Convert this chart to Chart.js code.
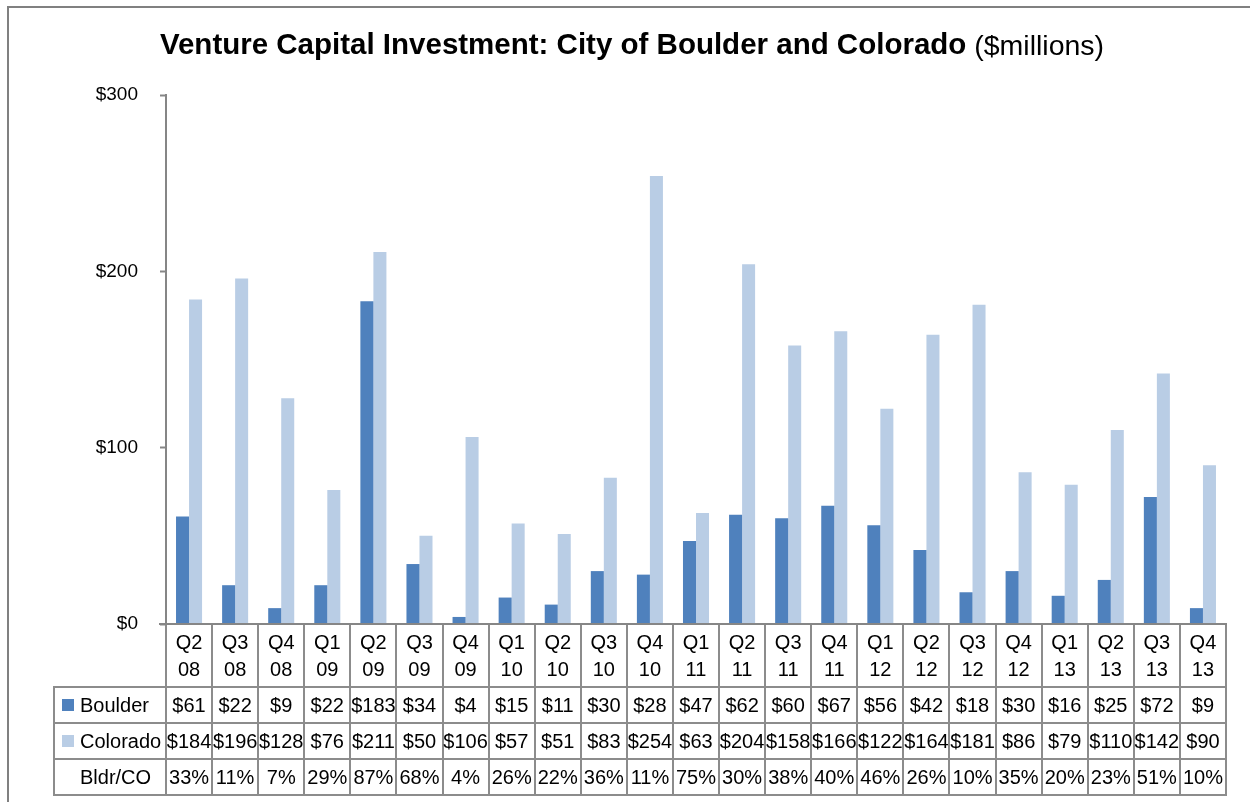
<!DOCTYPE html>
<html>
<head>
<meta charset="utf-8">
<script src="https://cdn.jsdelivr.net/npm/chart.js@4.4.1/dist/chart.umd.min.js"></script>
<style>
  html, body { margin: 0; padding: 0; background: #ffffff; }
  #wrap { position: relative; width: 1250px; height: 802px; }
</style>
</head>
<body>
<div id="wrap"><canvas id="c" width="1250" height="802"></canvas></div>
<script>
const quarters = ["Q2","Q3","Q4","Q1","Q2","Q3","Q4","Q1","Q2","Q3","Q4","Q1","Q2","Q3","Q4","Q1","Q2","Q3","Q4","Q1","Q2","Q3","Q4"];
const years    = ["08","08","08","09","09","09","09","10","10","10","10","11","11","11","11","12","12","12","12","13","13","13","13"];
const boulder  = [61,22,9,22,183,34,4,15,11,30,28,47,62,60,67,56,42,18,30,16,25,72,9];
const colorado = [184,196,128,76,211,50,106,57,51,83,254,63,204,158,166,122,164,181,86,79,110,142,90];
const ratioLabels = ["33%","11%","7%","29%","87%","68%","4%","26%","22%","36%","11%","75%","30%","38%","40%","46%","26%","10%","35%","20%","23%","51%","10%"];
const yTicks = [0,100,200,300];
const titleBold = "Venture Capital Investment: City of Boulder and Colorado";
const titleNormal = " ($millions)";
const seriesNames = ["Boulder","Colorado","Bldr/CO"];

const FONT = '"Liberation Sans", Arial, sans-serif';
const COL_B = '#4F81BD';
const COL_C = '#B9CDE5';
const GRID = '#8C8C8C';

const labels = quarters.map((q, i) => [q, years[i]]);

const tablePlugin = {
  id: 'tablePlugin',
  afterDraw(chart) {
    const ctx = chart.ctx;
    const x = chart.scales.x;
    const ca = chart.chartArea;
    const n = labels.length;
    const left = ca.left, right = ca.right;
    const w = (right - left) / n;
    const yTop = ca.bottom;       // 624
    const rows = [yTop + 63, yTop + 99, yTop + 135, yTop + 171];
    const legLeft = 54;
    ctx.save();

    // outer frame
    ctx.strokeStyle = '#808080';
    ctx.lineWidth = 2;
    ctx.beginPath();
    ctx.moveTo(8, 802); ctx.lineTo(8, 7); ctx.lineTo(1250, 7);
    ctx.stroke();

    // title
    ctx.fillStyle = '#000';
    ctx.textBaseline = 'middle';
    const fb = 'bold 29.5px ' + FONT;
    const fn = '28.5px ' + FONT;
    ctx.font = fb;
    const wb = ctx.measureText(titleBold).width;
    ctx.font = fn;
    const wn = ctx.measureText(titleNormal).width;
    const tx = 632 - (wb + wn) / 2;
    ctx.textAlign = 'left';
    ctx.font = fb;
    ctx.fillText(titleBold, tx, 46);
    ctx.font = fn;
    ctx.fillText(titleNormal, tx + wb, 47);

    // grid lines of table
    ctx.strokeStyle = GRID;
    ctx.lineWidth = 2;
    ctx.beginPath();
    for (let i = 0; i <= n; i++) {
      const gx = Math.round(left + i * w);
      ctx.moveTo(gx, yTop);
      ctx.lineTo(gx, rows[3]);
    }
    ctx.moveTo(legLeft, rows[0]); ctx.lineTo(legLeft, rows[3]);
    for (let r = 0; r < 4; r++) {
      ctx.moveTo(legLeft - 1, rows[r]); ctx.lineTo(right + 1, rows[r]);
    }
    ctx.stroke();
    // x axis line
    ctx.beginPath();
    ctx.strokeStyle = '#868686';
    ctx.moveTo(159, yTop); ctx.lineTo(right + 1, yTop);
    ctx.stroke();

    // category labels and table values
    ctx.fillStyle = '#000';
    ctx.font = '20px ' + FONT;
    ctx.textAlign = 'center';
    ctx.textBaseline = 'middle';
    for (let i = 0; i < n; i++) {
      const cx = x.getPixelForValue(i);
      ctx.fillText(labels[i][0], cx, yTop + 19);
      ctx.fillText(labels[i][1], cx, yTop + 46);
      ctx.fillText('$' + boulder[i], cx, (rows[0] + rows[1]) / 2 + 1);
      ctx.fillText('$' + colorado[i], cx, (rows[1] + rows[2]) / 2 + 1);
      ctx.fillText(ratioLabels[i], cx, (rows[2] + rows[3]) / 2 + 1);
    }

    // legend column
    ctx.textAlign = 'left';
    ctx.fillStyle = COL_B;
    ctx.fillRect(62, (rows[0] + rows[1]) / 2 - 6, 12, 12);
    ctx.fillStyle = COL_C;
    ctx.fillRect(62, (rows[1] + rows[2]) / 2 - 6, 12, 12);
    ctx.fillStyle = '#000';
    ctx.fillText(seriesNames[0], 80, (rows[0] + rows[1]) / 2 + 1);
    ctx.fillText(seriesNames[1], 80, (rows[1] + rows[2]) / 2 + 1);
    ctx.fillText(seriesNames[2], 80, (rows[2] + rows[3]) / 2 + 1);
    ctx.restore();
  }
};

new Chart(document.getElementById('c'), {
  type: 'bar',
  data: {
    labels: labels,
    datasets: [
      { label: seriesNames[0], data: boulder, backgroundColor: COL_B, categoryPercentage: 0.565, barPercentage: 1.0 },
      { label: seriesNames[1], data: colorado, backgroundColor: COL_C, categoryPercentage: 0.565, barPercentage: 1.0 }
    ]
  },
  options: {
    responsive: false,
    animation: false,
    devicePixelRatio: 1,
    layout: { padding: { left: 0, right: 24, top: 95, bottom: 178 } },
    plugins: { legend: { display: false }, title: { display: false }, tooltip: { enabled: false } },
    scales: {
      x: { display: false, offset: true },
      y: {
        min: 0, max: 300,
        afterFit(scale) { scale.width = 166; },
        afterBuildTicks(scale) { scale.ticks = yTicks.map(v => ({ value: v })); },
        ticks: {
          callback: v => '$' + v,
          color: '#000',
          font: { family: FONT, size: 19 },
          padding: 22
        },
        grid: { display: true, drawOnChartArea: false, drawTicks: true, tickLength: 6, tickColor: '#868686', tickWidth: 2 },
        border: { display: true, color: '#868686', width: 2 }
      }
    }
  },
  plugins: [tablePlugin]
});
</script>
</body>
</html>
